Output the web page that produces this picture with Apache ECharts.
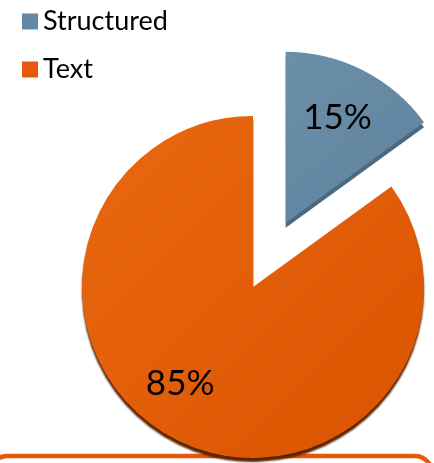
<!DOCTYPE html>
<html><head><meta charset="utf-8">
<script src="https://cdn.jsdelivr.net/npm/echarts@6/dist/echarts.min.js"></script>
<style>html,body{margin:0;padding:0;background:#fff}#c{width:434px;height:463px}</style>
</head><body><div id="c"></div>
<script>
const categories = ['Structured', 'Text'];
const values = [15, 85];
const exploded = [true, false];

const style = {
  flat: ['#6389a6', '#e8580a'],
  grad: [['#6c8fa9', '#5e829e'], ['#ea6812', '#da5300']],
  side: ['#4a6a82', '#5a2400'],
  labelShift: [[-4, 4], [-17, -13]],
  font: 'Lato'
};

const chart = echarts.init(document.getElementById('c'), null, {renderer: 'canvas'});
const total = values.reduce((a, b) => a + b, 0);

const mainData = categories.map((name, i) => ({
  name, value: values[i], selected: exploded[i],
  itemStyle: {
    color: new echarts.graphic.LinearGradient(0, 0, 1, 1, [
      {offset: 0, color: style.grad[i][0]}, {offset: 1, color: style.grad[i][1]}
    ]),
    shadowColor: style.side[i],
    shadowOffsetY: i === 0 ? 5 : 4,
    shadowOffsetX: 0,
    shadowBlur: i === 0 ? 0 : 2
  }
}));
const labelData = categories.map((name, i) => ({
  name, value: values[i], selected: exploded[i],
  itemStyle: {color: 'rgba(0,0,0,0)'}
}));

chart.setOption({
  animation: false,
  legend: {
    orient: 'vertical', left: 22, top: 8, padding: 0,
    itemWidth: 16, itemHeight: 16, itemGap: 21,
    icon: 'rect',
    selectedMode: false,
    textStyle: {fontFamily: style.font, fontSize: 27, lineHeight: 26, color: '#000'},
    data: categories.map((name, i) => ({name, itemStyle: {color: style.flat[i]}}))
  },
  graphic: [{
    type: 'rect', z: -10,
    shape: {x: -10, y: 456, width: 442, height: 100, r: 17},
    style: {fill: 'none', stroke: '#e8580a', lineWidth: 4.5}
  }],
  series: [{
    type: 'pie', center: [253, 287], radius: [0, 171],
    startAngle: 90, clockwise: true,
    selectedMode: 'single', selectedOffset: 72,
    label: {show: false}, labelLine: {show: false},
    emphasis: {disabled: true},
    data: mainData, z: 2
  }, {
    type: 'pie', center: [253, 287], radius: [69, 171],
    startAngle: 90, clockwise: true, silent: true,
    selectedMode: 'single', selectedOffset: 72,
    label: {
      show: true, position: 'inside',
      formatter: p => Math.round(p.value / total * 100) + '%',
      fontFamily: style.font, fontSize: 35, color: '#000'
    },
    labelLayout: p => ({dx: style.labelShift[p.dataIndex][0], dy: style.labelShift[p.dataIndex][1]}),
    labelLine: {show: false},
    emphasis: {disabled: true},
    data: labelData, z: 3
  }]
});
</script></body></html>
